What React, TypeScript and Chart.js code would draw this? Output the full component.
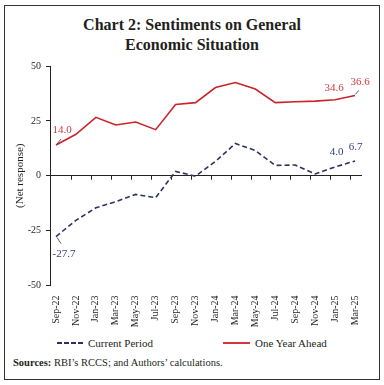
import React, { useEffect, useRef } from "react";
import { Chart, registerables } from "chart.js";

Chart.register(...registerables);

const months = ["Sep-22", "Nov-22", "Jan-23", "Mar-23", "May-23", "Jul-23", "Sep-23", "Nov-23", "Jan-24", "Mar-24", "May-24", "Jul-24", "Sep-24", "Nov-24", "Jan-25", "Mar-25"];
const currentPeriod = [-27.7, -20.3, -14.6, -11.8, -8.5, -10.0, 2.0, -0.2, 6.5, 14.7, 11.5, 4.7, 4.9, 0.8, 4.0, 6.7];
const oneYearAhead = [14.0, 18.9, 26.6, 23.1, 24.5, 21.0, 32.5, 33.3, 40.2, 42.5, 39.5, 33.3, 33.7, 34.0, 34.6, 36.6];
const yTicks = [-50, -25, 0, 25, 50];

const FONT = '"Liberation Serif", "Times New Roman", serif';
const RED = "#cc2229";
const NAVY = "#2e3160";
const RED_TXT = "#d03a40";
const NAVY_TXT = "#34427f";
const INK = "#231f20";

const zeroTicksPlugin = {
  id: "zeroTicks",
  beforeDatasetsDraw(chart: any) {
    const { ctx, scales } = chart;
    const x = scales.x;
    const y0 = scales.y.getPixelForValue(0);
    ctx.save();
    ctx.strokeStyle = "#222";
    ctx.lineWidth = 1;
    for (let i = 0; i < months.length - 1; i++) {
      const px = Math.round(x.getPixelForValue(i + 0.76)) + 0.5;
      ctx.beginPath();
      ctx.moveTo(px, y0);
      ctx.lineTo(px, y0 + 4);
      ctx.stroke();
    }
    ctx.restore();
  },
};

const labelPlugin = {
  id: "valueLabels",
  afterDatasetsDraw(chart: any) {
    const ctx = chart.ctx;
    const cur = chart.getDatasetMeta(0).data;
    const ahd = chart.getDatasetMeta(1).data;
    const last = months.length - 1;
    ctx.save();
    ctx.font = `11px ${FONT}`;
    ctx.textAlign = "center";
    ctx.textBaseline = "middle";
    const put = (pt: any, val: number, dx: number, dy: number, color: string, leader?: number[]) => {
      ctx.fillStyle = color;
      ctx.fillText(val.toFixed(1), pt.x + dx, pt.y + dy);
      if (leader) {
        ctx.strokeStyle = "#333";
        ctx.lineWidth = 0.8;
        ctx.beginPath();
        ctx.moveTo(pt.x + leader[0], pt.y + leader[1]);
        ctx.lineTo(pt.x + leader[2], pt.y + leader[3]);
        ctx.stroke();
      }
    };
    put(ahd[0], oneYearAhead[0], 6, -15, RED_TXT, [1, -1, 5, -6]);
    put(ahd[last - 1], oneYearAhead[last - 1], -1, -12, RED_TXT);
    put(ahd[last], oneYearAhead[last], 5, -13, RED_TXT, [0.5, -1, 3.5, -5]);
    put(cur[0], currentPeriod[0], 8, 17.5, NAVY_TXT, [1, 1, 5, 7]);
    put(cur[last - 1], currentPeriod[last - 1], 1.5, -14.5, NAVY_TXT);
    put(cur[last], currentPeriod[last], 0.5, -14, NAVY_TXT);
    ctx.restore();
  },
};

function ChartCanvas() {
  const ref = useRef<HTMLCanvasElement | null>(null);
  useEffect(() => {
    if (!ref.current) return;
    const chart = new Chart(ref.current, {
      type: "line",
      data: {
        datasets: [
          {
            label: "Current Period",
            data: currentPeriod.map((v, i) => ({ x: i, y: v })),
            borderColor: NAVY,
            borderWidth: 1.6,
            borderDash: [5, 3],
            pointRadius: 0,
            fill: false,
            tension: 0,
          },
          {
            label: "One Year Ahead",
            data: oneYearAhead.map((v, i) => ({ x: i, y: v })),
            borderColor: RED,
            borderWidth: 1.6,
            pointRadius: 0,
            fill: false,
            tension: 0,
          },
        ],
      },
      options: {
        animation: false,
        responsive: false,
        maintainAspectRatio: false,
        layout: { padding: { left: 0, right: 22, top: 10.5, bottom: 0 } },
        plugins: {
          legend: { display: false },
          tooltip: { enabled: false },
          title: { display: false },
        },
        scales: {
          x: {
            type: "linear",
            min: -0.301,
            max: 15.351,
            afterBuildTicks: (s: any) => {
              s.ticks = months.map((_, i) => ({ value: i }));
            },
            afterFit: (s: any) => {
              s.height = 44.5;
            },
            grid: { display: false, drawTicks: false },
            border: { display: false },
            ticks: {
              autoSkip: false,
              minRotation: 90,
              maxRotation: 90,
              padding: 10,
              color: INK,
              font: { family: FONT, size: 10 },
              callback: (v: any) => months[v],
            },
          },
          y: {
            min: -50,
            max: 50,
            afterBuildTicks: (s: any) => {
              s.ticks = yTicks.map((v) => ({ value: v }));
            },
            afterFit: (s: any) => {
              s.width = 50;
            },
            grid: {
              color: (c: any) => (c.tick && c.tick.value === 0 ? "#222" : "rgba(0,0,0,0)"),
              tickColor: "#222",
              tickLength: 4,
              lineWidth: 1,
            },
            border: { display: true, color: "#222", width: 1 },
            ticks: {
              padding: 5,
              color: INK,
              font: { family: FONT, size: 10 },
            },
            title: {
              display: true,
              text: "(Net response)",
              color: INK,
              font: { family: FONT, size: 11 },
              padding: { top: 14, bottom: 0 },
            },
          },
        },
      },
      plugins: [zeroTicksPlugin, labelPlugin],
    } as any);
    return () => chart.destroy();
  }, []);
  return <canvas ref={ref} width={384} height={275} style={{ position: "absolute", left: 0, top: 55, width: 384, height: 275 }} />;
}

export default function App() {
  return (
    <div style={{ position: "absolute", left: 0, top: 0, width: 384, height: 385, fontFamily: FONT, color: INK, background: "#fff" }}>
      <div style={{ position: "absolute", left: 4, top: 5, width: 376, height: 375, border: "1.5px solid #333", boxSizing: "border-box" }} />
      <div style={{ position: "absolute", left: 0, top: 15, width: 384, textAlign: "center", fontWeight: "bold", fontSize: 16, lineHeight: "20px" }}>
        Chart 2: Sentiments on General
        <br />
        Economic Situation
      </div>
      <ChartCanvas />
      <div style={{ position: "absolute", left: 57, top: 336, height: 14, display: "flex", alignItems: "center", fontSize: 11 }}>
        <svg width={26} height={4} style={{ marginRight: 5 }}>
          <line x1={0} y1={2} x2={26} y2={2} stroke={NAVY} strokeWidth={1.8} strokeDasharray="5,2" />
        </svg>
        <span>Current Period</span>
      </div>
      <div style={{ position: "absolute", left: 223, top: 336, height: 14, display: "flex", alignItems: "center", fontSize: 11 }}>
        <svg width={27} height={4} style={{ marginRight: 5 }}>
          <line x1={0} y1={2} x2={27} y2={2} stroke={RED} strokeWidth={1.8} />
        </svg>
        <span>One Year Ahead</span>
      </div>
      <div style={{ position: "absolute", left: 13, top: 356, fontSize: 10.5, lineHeight: "14px", whiteSpace: "nowrap" }}>
        <b>Sources:</b> RBI’s RCCS; and Authors’ calculations.
      </div>
    </div>
  );
}
